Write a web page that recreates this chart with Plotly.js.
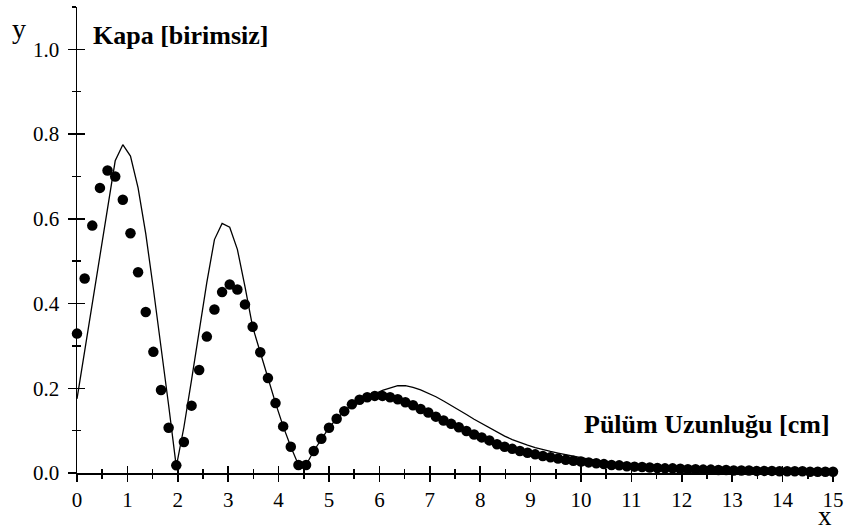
<!DOCTYPE html>
<html>
<head>
<meta charset="utf-8">
<script src="https://cdn.plot.ly/plotly-3.0.1.min.js"></script>
<style>html,body{margin:0;padding:0;background:#fff;}#chart{width:847px;height:532px;}</style>
</head>
<body>
<div id="chart"></div>
<script>
// Sample positions (Pülüm Uzunluğu [cm]) — 100 samples from 0 to 15
const xValues = [0,0.152,0.303,0.455,0.606,0.758,0.909,1.061,1.212,1.364,1.515,1.667,1.818,1.970,2.121,2.273,2.424,2.576,2.727,2.879,3.030,3.182,3.333,3.485,3.636,3.788,3.939,4.091,4.242,4.394,4.545,4.697,4.848,5.000,5.152,5.303,5.455,5.606,5.758,5.909,6.061,6.212,6.364,6.515,6.667,6.818,6.970,7.121,7.273,7.424,7.576,7.727,7.879,8.030,8.182,8.333,8.485,8.636,8.788,8.939,9.091,9.242,9.394,9.545,9.697,9.848,10.000,10.152,10.303,10.455,10.606,10.758,10.909,11.061,11.212,11.364,11.515,11.667,11.818,11.970,12.121,12.273,12.424,12.576,12.727,12.879,13.030,13.182,13.333,13.485,13.636,13.788,13.939,14.091,14.242,14.394,14.545,14.697,14.848,15.000];

// Solid curve (Kapa)
const lineValues = [0.175,0.287,0.400,0.510,0.620,0.737,0.775,0.748,0.673,0.565,0.435,0.300,0.160,0.015,0.108,0.220,0.340,0.450,0.551,0.589,0.580,0.528,0.440,0.345,0.285,0.224,0.165,0.110,0.062,0.019,0.019,0.052,0.081,0.107,0.128,0.146,0.162,0.174,0.180,0.187,0.195,0.201,0.206,0.206,0.202,0.196,0.188,0.180,0.170,0.160,0.150,0.138,0.127,0.117,0.106,0.096,0.087,0.079,0.072,0.066,0.060,0.055,0.051,0.047,0.043,0.040,0.036,0.033,0.030,0.028,0.025,0.023,0.021,0.019,0.018,0.016,0.015,0.014,0.013,0.012,0.011,0.010,0.010,0.009,0.008,0.008,0.007,0.007,0.006,0.006,0.006,0.005,0.005,0.005,0.004,0.004,0.004,0.004,0.004,0.004];

// Dotted series (Kapa)
const dotValues = [0.329,0.459,0.584,0.673,0.714,0.700,0.645,0.566,0.474,0.380,0.286,0.196,0.107,0.018,0.073,0.159,0.243,0.322,0.386,0.427,0.445,0.433,0.398,0.345,0.285,0.224,0.165,0.110,0.062,0.019,0.019,0.052,0.081,0.107,0.128,0.146,0.162,0.173,0.179,0.182,0.182,0.179,0.174,0.167,0.160,0.151,0.143,0.133,0.124,0.116,0.108,0.099,0.091,0.084,0.077,0.068,0.062,0.057,0.052,0.048,0.044,0.040,0.037,0.034,0.031,0.029,0.027,0.025,0.023,0.021,0.019,0.018,0.016,0.015,0.014,0.013,0.012,0.011,0.011,0.010,0.009,0.009,0.008,0.008,0.007,0.007,0.006,0.006,0.006,0.005,0.005,0.005,0.004,0.004,0.004,0.004,0.003,0.003,0.003,0.003];

// Tick labels
const xTickVals = [0,1,2,3,4,5,6,7,8,9,10,11,12,13,14,15];
const xTickText = ["0","1","2","3","4","5","6","7","8","9","10","11","12","13","14","15"];
const xMinorVals = [0.5,1.5,2.5,3.5,4.5,5.5,6.5,7.5,8.5,9.5,10.5,11.5,12.5,13.5,14.5];
const yTickVals = [0,0.2,0.4,0.6,0.8,1.0];
const yTickText = ["0.0","0.2","0.4","0.6","0.8","1.0"];
const yMinorVals = [0.1,0.3,0.5,0.7,0.9,1.1];

const serif = "'Liberation Serif', 'Times New Roman', Times, serif";

const traces = [
  {x: xValues, y: dotValues, type: "scatter", mode: "markers", xaxis: "x", yaxis: "y",
   marker: {color: "#000", size: 10.5, line: {width: 0}}, cliponaxis: false, hoverinfo: "skip"},
  {x: xValues, y: lineValues, type: "scatter", mode: "lines", xaxis: "x2", yaxis: "y2",
   line: {color: "#000", width: 1.3}, cliponaxis: false, hoverinfo: "skip"}
];

const axisCommon = {
  showgrid: false, zeroline: false, showline: true, linecolor: "#000", linewidth: 1.5,
  tickcolor: "#000", tickwidth: 1.5, tickmode: "array", fixedrange: true
};

const layout = {
  width: 847, height: 532,
  margin: {l: 77, r: 14, t: 7, b: 59},
  paper_bgcolor: "#fff", plot_bgcolor: "rgba(0,0,0,0)",
  showlegend: false,
  font: {family: serif, color: "#000", size: 21},
  xaxis: Object.assign({}, axisCommon, {
    range: [0, 15], tickvals: xTickVals, ticktext: xTickText,
    ticks: "outside", ticklen: 7, ticklabelstandoff: 0,
    minor: {ticks: "outside", ticklen: 4, tickvals: xMinorVals, tickcolor: "#000", tickwidth: 1.5},
    tickfont: {family: serif, size: 21, color: "#000"}, anchor: "y"
  }),
  xaxis2: Object.assign({}, axisCommon, {
    range: [0, 15], tickvals: xTickVals, ticktext: xTickText,
    ticks: "inside", ticklen: 7, showticklabels: false, overlaying: "x", anchor: "y2", side: "bottom",
    minor: {ticks: "inside", ticklen: 4, tickvals: xMinorVals, tickcolor: "#000", tickwidth: 1.5}
  }),
  yaxis: Object.assign({}, axisCommon, {
    range: [0, 1.1], tickvals: yTickVals, ticktext: yTickText,
    ticks: "outside", ticklen: 8, ticklabelstandoff: 4,
    minor: {ticks: "outside", ticklen: 4, tickvals: yMinorVals, tickcolor: "#000", tickwidth: 1.5},
    tickfont: {family: serif, size: 21, color: "#000"}, anchor: "x"
  }),
  yaxis2: Object.assign({}, axisCommon, {
    range: [0, 1.1], tickvals: yTickVals, ticktext: yTickText,
    ticks: "inside", ticklen: 8, showticklabels: false, overlaying: "y", anchor: "x2", side: "left",
    minor: {ticks: "inside", ticklen: 4, tickvals: yMinorVals, tickcolor: "#000", tickwidth: 1.5}
  }),
  annotations: [
    {text: "y", xref: "paper", yref: "paper", x: (19 - 77) / 756, y: (473 - 29) / 466,
     xanchor: "center", yanchor: "middle", showarrow: false, font: {family: serif, size: 28, color: "#000"}},
    {text: "<b>Kapa [birimsiz]</b>", xref: "paper", yref: "paper", x: (91 - 77) / 756, y: (473 - 35) / 466,
     xanchor: "left", yanchor: "middle", showarrow: false, font: {family: serif, size: 26, color: "#000"}},
    {text: "<b>Pülüm Uzunluğu [cm]</b>", xref: "paper", yref: "paper", x: (832 - 77) / 756, y: (473 - 424) / 466,
     xanchor: "right", yanchor: "middle", showarrow: false, font: {family: serif, size: 26, color: "#000"}},
    {text: "x", xref: "paper", yref: "paper", x: (825 - 77) / 756, y: (473 - 516) / 466,
     xanchor: "center", yanchor: "middle", showarrow: false, font: {family: serif, size: 27, color: "#000"}}
  ]
};

Plotly.newPlot("chart", traces, layout, {staticPlot: true, displayModeBar: false});
</script>
</body>
</html>
